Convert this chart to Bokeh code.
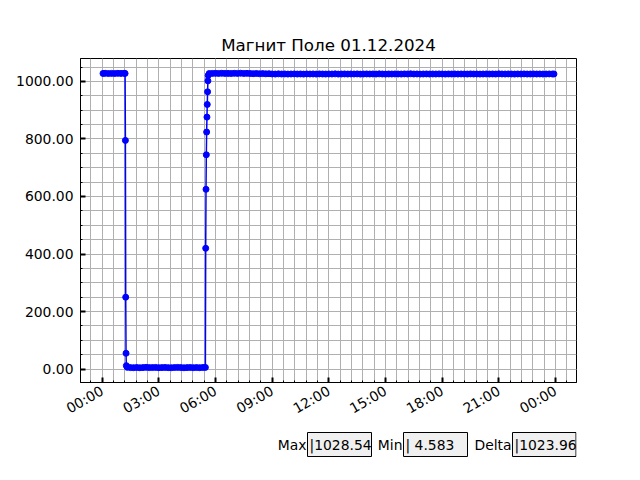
import pandas as pd
from bokeh.plotting import figure
from bokeh.layouts import column
from bokeh.models import (Range1d, FixedTicker, DatetimeTickFormatter,
                          PrintfTickFormatter, ColumnDataSource)
from bokeh.embed import file_html
from bokeh.resources import INLINE
import math

DAY = "2024-12-01"
TITLE = "Магнит Поле 01.12.2024"

am_times = ["00:03", "00:10", "00:20", "00:30", "00:40", "00:50", "01:00", "01:10", "01:13"]
am_vals = [1027.8, 1028.2, 1027.5, 1028.0, 1027.6, 1028.1, 1027.9, 1028.3, 1027.9]

drop_times = ["01:14", "01:15", "01:16", "01:17"]
drop_vals = [795.0, 250.0, 55.0, 12.0]

low_times = ["01:20", "01:30", "01:40", "01:50",
             "02:00", "02:10", "02:20", "02:30", "02:40", "02:50",
             "03:00", "03:10", "03:20", "03:30", "03:40", "03:50",
             "04:00", "04:10", "04:20", "04:30", "04:40", "04:50",
             "05:00", "05:10", "05:20", "05:28"]
low_vals = [6.1, 5.2, 4.9, 5.6,
            4.6, 5.3, 6.0, 5.1, 5.4, 5.8,
            4.9, 5.2, 5.7, 5.0, 4.8, 5.5,
            5.9, 5.3, 4.583, 5.1, 5.6, 5.0,
            5.4, 4.9, 5.7, 5.9]

rise_times = ["05:29", "05:30", "05:31", "05:32", "05:33", "05:34", "05:35", "05:36", "05:37"]
rise_vals = [420.0, 625.0, 745.0, 824.0, 876.0, 920.0, 964.0, 1002.0, 1021.0]

pm_times = ["05:40", "05:50",
            "06:00", "06:10", "06:20", "06:30", "06:40", "06:50",
            "07:00", "07:10", "07:20", "07:30", "07:40", "07:50",
            "08:00", "08:10", "08:20", "08:30", "08:40", "08:50",
            "09:00", "09:10", "09:20", "09:30", "09:40", "09:50",
            "10:00", "10:10", "10:20", "10:30", "10:40", "10:50",
            "11:00", "11:10", "11:20", "11:30", "11:40", "11:50",
            "12:00", "12:10", "12:20", "12:30", "12:40", "12:50",
            "13:00", "13:10", "13:20", "13:30", "13:40", "13:50",
            "14:00", "14:10", "14:20", "14:30", "14:40", "14:50",
            "15:00", "15:10", "15:20", "15:30", "15:40", "15:50",
            "16:00", "16:10", "16:20", "16:30", "16:40", "16:50",
            "17:00", "17:10", "17:20", "17:30", "17:40", "17:50",
            "18:00", "18:10", "18:20", "18:30", "18:40", "18:50",
            "19:00", "19:10", "19:20", "19:30", "19:40", "19:50",
            "20:00", "20:10", "20:20", "20:30", "20:40", "20:50",
            "21:00", "21:10", "21:20", "21:30", "21:40", "21:50",
            "22:00", "22:10", "22:20", "22:30", "22:40", "22:50",
            "23:00", "23:10", "23:20", "23:30", "23:40", "23:50",
            "23:55"]
pm_vals = [1027.4, 1027.9,
           1028.1, 1027.8, 1028.3, 1027.9, 1028.0, 1027.6,
           1028.2, 1027.9, 1028.54, 1027.7, 1028.1, 1027.5,
           1027.0, 1027.6, 1026.8, 1027.2, 1026.5, 1026.9,
           1026.0, 1025.7, 1026.3, 1025.8, 1026.1, 1025.6,
           1025.9, 1026.2, 1025.7, 1026.0, 1025.5, 1026.1,
           1025.8, 1026.0, 1025.6, 1026.2, 1025.9, 1025.7,
           1026.0, 1025.8, 1026.3, 1025.6, 1025.9, 1026.1,
           1025.7, 1026.0, 1025.8, 1026.2, 1025.5, 1025.9,
           1026.1, 1025.8, 1026.0, 1025.7, 1026.3, 1025.9,
           1025.6, 1026.0, 1025.8, 1026.1, 1025.9, 1025.7,
           1026.2, 1025.9, 1026.5, 1025.8, 1026.0, 1025.6,
           1025.9, 1026.1, 1025.7, 1026.0, 1025.8, 1026.2,
           1025.9, 1025.6, 1026.0, 1025.8, 1026.1, 1025.7,
           1026.0, 1025.9, 1025.7, 1026.2, 1025.8, 1026.0,
           1025.6, 1025.9, 1026.1, 1025.8, 1026.0, 1025.7,
           1026.4, 1026.0, 1025.8, 1026.1, 1025.9, 1025.6,
           1026.0, 1025.8, 1026.2, 1025.7, 1025.9, 1026.1,
           1025.8, 1026.0, 1025.7, 1025.9, 1026.1, 1025.8,
           1025.9]

x_tick_hours = [0, 3, 6, 9, 12, 15, 18, 21, 24]
y_ticks = [0, 200, 400, 600, 800, 1000]

times = am_times + drop_times + low_times + rise_times + pm_times
vals = am_vals + drop_vals + low_vals + rise_vals + pm_vals
t = pd.to_datetime([DAY + " " + s for s in times])
src = ColumnDataSource(dict(t=t, v=vals))

FONT = "DejaVu Sans"
day0 = pd.Timestamp(DAY)


def ms(ts):
    return ts.value / 1e6


tmin, tmax = t.min(), t.max()
tpad = (tmax - tmin) * 0.05
vmin, vmax = min(vals), max(vals)
vpad = (vmax - vmin) * 0.05

p = figure(width=624, height=426, x_axis_type="datetime", output_backend="svg",
           toolbar_location=None,
           x_range=Range1d(ms(tmin - tpad), ms(tmax + tpad)),
           y_range=Range1d(vmin - vpad, vmax + vpad),
           min_border_left=80, min_border_right=48, min_border_top=58, min_border_bottom=42)

p.title.text = TITLE
p.title.text_font = FONT
p.title.text_font_size = "16.7px"
p.title.text_font_style = "normal"
p.title.text_color = "black"
p.title.align = "center"
p.title.standoff = 7

p.line("t", "v", source=src, color="#0000ff", line_width=1.5)
p.scatter("t", "v", source=src, size=6, color="#0000ff")

major_x = [ms(day0 + pd.Timedelta(hours=h)) for h in x_tick_hours]
minor_x = [ms(day0 + pd.Timedelta(minutes=m)) for m in range(-72, 1560, 36)]
p.xaxis.ticker = FixedTicker(ticks=major_x, minor_ticks=minor_x)
fmt = "%H:%M"
p.xaxis.formatter = DatetimeTickFormatter(minutes=fmt, hourmin=fmt, hours=fmt, days=fmt,
                                          months=fmt, minsec=fmt)
p.xaxis.major_label_orientation = math.pi / 6

p.yaxis.ticker = FixedTicker(ticks=y_ticks, minor_ticks=list(range(-50, 1101, 50)))
p.yaxis.formatter = PrintfTickFormatter(format="%.2f")

for ax in (p.xaxis, p.yaxis):
    ax.major_label_text_font = FONT
    ax.major_label_text_font_size = "13.9px"
    ax.major_label_text_color = "black"
    ax.axis_line_color = "black"
    ax.major_tick_in = 5
    ax.major_tick_out = 0
    ax.major_tick_line_width = 2
    ax.major_tick_line_color = "black"
    ax.minor_tick_in = 2
    ax.minor_tick_out = 0
    ax.minor_tick_line_color = "black"
    ax.major_label_standoff = 7

p.grid.grid_line_color = "#b0b0b0"
p.grid.minor_grid_line_color = "#b0b0b0"
p.grid.grid_line_width = 1
p.outline_line_color = "black"
p.outline_line_alpha = 1
p.outline_line_width = 1

# text boxes below the chart (frame of this figure is aligned with the chart's frame)
stats_labels = ["Max", "Min", "Delta"]
stats_text = ["|" + f"{vmax:.6g}", "|  " + f"{vmin:.6g}", "|" + f"{vmax - vmin:.6g}"]

b = figure(width=624, height=40, output_backend="svg", toolbar_location=None,
           x_range=Range1d(80, 576), y_range=Range1d(466, 426),
           min_border=0, outline_line_color=None)
b.axis.visible = False
b.grid.visible = False
box_left = [307, 403, 512]
box_right = [371, 467, 575.5]
b.quad(left=box_left, right=box_right, top=[432] * 3, bottom=[456] * 3,
       fill_color="#f0f0f0", line_color="black", line_width=1)
b.text(x=[306, 402, 511], y=[444] * 3, text=stats_labels, text_align="right",
       text_baseline="middle", text_font={"value": FONT}, text_font_size={"value": "13.9px"},
       text_color="black")
b.text(x=[309, 405, 514], y=[444] * 3, text=stats_text, text_align="left",
       text_baseline="middle", text_font={"value": FONT}, text_font_size={"value": "13.9px"},
       text_color="black")

layout = column(p, b, spacing=0)
open("out.html", "w").write(file_html(layout, INLINE))
